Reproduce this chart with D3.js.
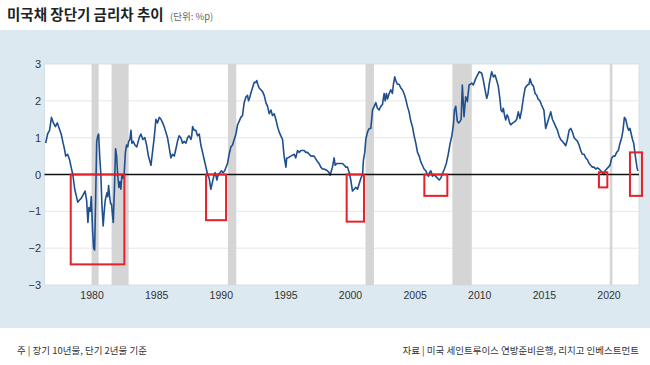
<!DOCTYPE html>
<html><head><meta charset="utf-8">
<script src="https://cdn.jsdelivr.net/npm/d3@7"></script>
<style>
html,body{margin:0;padding:0;background:#fff;}
svg{display:block;}
</style></head>
<body><svg id="c" width="650" height="365"></svg>
<script>
const title = "미국채 장단기 금리차 추이";
const unit = "(단위: %p)";
const noteLeft = "주 | 장기 10년물, 단기 2년물 기준";
const noteRight = "자료 | 미국 세인트루이스 연방준비은행, 리치고 인베스트먼트";
const xTicks = [1980,1985,1990,1995,2000,2005,2010,2015,2020];
const yTicks = [-3,-2,-1,0,1,2,3];
const recessionStart = [1980.0,1981.55,1990.55,2001.2,2007.92,2020.1];
const recessionEnd   = [1980.55,1982.87,1991.2,2001.85,2009.42,2020.3];
const boxStart = [1978.39,1988.86,1999.74,2005.75,2019.26,2021.66];
const boxEnd   = [1982.54,1990.41,2001.08,2007.53,2019.91,2022.59];
const boxHigh  = [0,0,0,0,0.06,0.6];
const boxLow   = [-2.44,-1.24,-1.28,-0.58,-0.35,-0.58];
const dates = [
1976.45,1976.6,1976.75,1976.9,1977.05,1977.2,1977.35,1977.5,1977.65,1977.8,1977.9,1978.0,1978.15,1978.3,1978.42,1978.55,1978.7,1978.8,1978.93,1979.05,
1979.2,1979.35,1979.5,1979.62,1979.72,1979.8,1979.9,1979.98,1980.08,1980.16,1980.24,1980.32,1980.4,1980.48,1980.55,1980.63,1980.72,1980.8,1980.9,1980.98,
1981.06,1981.19,1981.25,1981.32,1981.4,1981.48,1981.55,1981.62,1981.68,1981.77,1981.86,1981.94,1982.02,1982.12,1982.2,1982.27,1982.35,1982.43,1982.53,1982.62,
1982.71,1982.8,1982.87,1982.97,1983.05,1983.12,1983.22,1983.36,1983.5,1983.69,1983.82,1983.97,1984.12,1984.26,1984.4,1984.6,1984.68,1984.85,1984.98,1985.1,
1985.24,1985.37,1985.5,1985.62,1985.88,1986.14,1986.27,1986.4,1986.53,1986.65,1986.78,1986.91,1987.04,1987.17,1987.3,1987.43,1987.55,1987.69,1987.75,1987.82,
1987.95,1988.07,1988.2,1988.33,1988.46,1988.59,1988.72,1988.85,1988.98,1989.1,1989.23,1989.36,1989.49,1989.57,1989.7,1989.8,1989.95,1990.05,1990.18,1990.3,
1990.52,1990.65,1990.78,1990.91,1991.04,1991.17,1991.3,1991.43,1991.55,1991.68,1991.81,1991.94,1992.07,1992.15,1992.25,1992.32,1992.45,1992.58,1992.71,1992.78,
1992.86,1992.97,1993.1,1993.23,1993.36,1993.49,1993.62,1993.75,1993.88,1994.0,1994.13,1994.26,1994.39,1994.52,1994.65,1994.78,1994.9,1995.04,1995.1,1995.2,
1995.42,1995.68,1995.8,1995.94,1996.07,1996.2,1996.33,1996.45,1996.58,1996.71,1996.97,1997.22,1997.48,1997.6,1997.74,1997.87,1997.99,1998.25,1998.38,1998.46,
1998.56,1998.64,1998.77,1998.85,1998.97,1999.1,1999.29,1999.42,1999.55,1999.68,1999.81,1999.94,2000.06,2000.19,2000.32,2000.45,2000.58,2000.71,2000.84,2000.97,
2001.04,2001.14,2001.22,2001.35,2001.48,2001.61,2001.74,2001.87,2002.0,2002.12,2002.25,2002.38,2002.51,2002.64,2002.72,2002.82,2002.9,2003.03,2003.15,2003.28,
2003.36,2003.46,2003.54,2003.67,2003.8,2003.93,2004.05,2004.18,2004.31,2004.44,2004.57,2004.7,2004.83,2004.96,2005.09,2005.22,2005.35,2005.47,2005.6,2005.73,
2005.86,2005.99,2006.07,2006.15,2006.25,2006.38,2006.5,2006.63,2006.77,2006.9,2007.02,2007.15,2007.3,2007.45,2007.6,2007.75,2007.88,2008.0,2008.08,2008.18,
2008.3,2008.4,2008.51,2008.6,2008.69,2008.82,2008.95,2009.08,2009.21,2009.32,2009.42,2009.54,2009.73,2009.86,2010.0,2010.19,2010.31,2010.45,2010.58,2010.68,
2010.78,2010.96,2011.1,2011.22,2011.35,2011.47,2011.6,2011.68,2011.78,2011.86,2011.96,2012.05,2012.15,2012.25,2012.35,2012.43,2012.6,2012.77,2012.9,2013.02,
2013.15,2013.28,2013.41,2013.55,2013.72,2013.85,2013.93,2014.06,2014.19,2014.32,2014.45,2014.55,2014.7,2014.8,2014.93,2015.0,2015.14,2015.27,2015.4,2015.53,
2015.66,2015.79,2015.92,2016.05,2016.17,2016.3,2016.43,2016.56,2016.69,2016.82,2016.95,2017.08,2017.21,2017.34,2017.47,2017.6,2017.72,2017.85,2017.98,2018.11,
2018.24,2018.37,2018.5,2018.62,2018.75,2018.88,2019.01,2019.14,2019.27,2019.4,2019.53,2019.66,2019.73,2019.86,2019.99,2020.12,2020.25,2020.38,2020.5,2020.63,
2020.76,2020.89,2021.02,2021.12,2021.23,2021.33,2021.46,2021.56,2021.66,2021.76,2021.86,2021.95,2022.04,2022.12,2022.2,2022.27
];
const spread = [
0.85,1.1,1.2,1.55,1.4,1.3,1.4,1.25,1.1,0.85,0.7,0.5,0.55,0.4,0.2,0.0,-0.4,-0.55,-0.75,-0.7,
-0.65,-0.55,-0.45,-0.7,-1.3,-0.9,-1.0,-0.6,-1.5,-2.0,-2.05,-0.6,0.9,1.05,1.1,0.5,0.0,-0.8,-1.4,-1.0,
-0.7,-0.5,-0.6,-0.3,-0.6,-0.8,-0.8,-1.1,-1.3,-0.4,0.7,0.5,0.0,-0.35,-0.2,-0.4,0.0,-0.1,0.05,0.6,
0.8,0.75,0.9,0.95,1.2,0.85,0.9,0.8,0.75,1.0,1.1,0.95,1.0,0.8,0.5,0.25,0.5,1.0,1.5,1.4,
1.55,1.5,1.4,1.3,1.0,0.45,0.55,0.5,0.7,0.9,1.05,1.0,0.85,0.9,0.85,1.0,1.05,0.95,1.05,1.3,
1.2,1.2,1.05,1.1,0.8,0.6,0.4,0.2,0.0,-0.1,-0.4,-0.2,0.0,0.05,-0.15,0.0,0.05,0.1,0.05,0.1,
0.3,0.55,0.75,0.8,0.95,1.1,1.35,1.45,1.55,1.6,1.95,2.1,2.15,2.0,2.1,2.2,2.35,2.5,2.5,2.55,
2.45,2.35,2.3,2.25,2.15,1.95,1.85,1.65,1.75,1.6,1.65,1.5,1.3,1.15,1.05,0.95,0.5,0.2,0.45,0.45,
0.5,0.55,0.45,0.65,0.6,0.65,0.65,0.65,0.6,0.6,0.5,0.5,0.35,0.3,0.2,0.15,0.15,0.1,0.05,-0.02,
0.1,0.2,0.45,0.25,0.3,0.3,0.3,0.3,0.25,0.2,0.2,0.05,-0.15,-0.45,-0.4,-0.35,-0.4,-0.25,-0.1,0.0,
0.4,0.6,0.95,1.15,1.25,1.25,1.75,1.85,1.95,1.8,1.75,1.85,1.9,2.2,2.0,2.2,2.05,2.2,2.3,2.2,
2.45,2.65,2.55,2.45,2.45,2.35,2.3,2.2,2.05,1.85,1.7,1.45,1.3,1.05,0.85,0.6,0.5,0.35,0.25,0.15,
0.1,0.0,-0.05,0.05,0.1,-0.05,0.0,-0.05,-0.1,-0.15,-0.1,0.02,0.15,0.3,0.55,0.85,1.05,1.35,1.75,1.85,
1.45,1.4,1.44,1.5,2.43,1.57,2.11,1.98,2.43,2.45,2.48,2.43,2.61,2.7,2.79,2.75,2.57,2.3,2.07,2.2,
2.48,2.79,2.65,2.7,2.55,2.4,2.05,1.75,1.7,1.8,1.6,1.48,1.62,1.55,1.4,1.35,1.4,1.44,1.5,1.7,
1.52,1.75,2.07,2.35,2.43,2.45,2.6,2.45,2.4,2.2,2.15,2.05,2.0,1.9,1.8,1.75,1.25,1.4,1.55,1.7,
1.5,1.4,1.3,1.2,1.05,0.95,0.9,0.85,0.78,0.95,1.2,1.25,1.15,1.0,0.95,0.9,0.8,0.65,0.55,0.55,
0.45,0.4,0.3,0.25,0.2,0.2,0.15,0.18,0.15,0.1,0.05,0.0,0.1,0.15,0.2,0.25,0.45,0.5,0.5,0.6,
0.65,0.85,1.0,1.2,1.55,1.5,1.3,1.2,1.25,1.1,0.95,0.85,0.6,0.4,0.2,0.1
];

const svg = d3.select("#c");
const W = 650, H = 365;
const plot = {left:44.5, right:639, top:64, bottom:285};
const FONT = "'Noto Sans CJK KR','Noto Sans',sans-serif";
const NUMFONT = "'Liberation Sans',Arial,sans-serif";

// background panel
svg.append("rect").attr("x",0).attr("y",30).attr("width",W).attr("height",298).attr("fill","#dde9f1");

const x = d3.scaleLinear().domain([1976.36,2022.36]).range([plot.left,plot.right]);
const y = d3.scaleLinear().domain([-3,3]).range([plot.bottom,plot.top]);

svg.append("rect").attr("x",plot.left).attr("y",plot.top)
  .attr("width",plot.right-plot.left).attr("height",plot.bottom-plot.top)
  .attr("fill","#fff").attr("stroke","#d2dae0").attr("stroke-width",0.8);

// grid
svg.append("g").selectAll("line").data(yTicks.filter(v=>v!==3&&v!==-3&&v!==0)).join("line")
  .attr("x1",plot.left).attr("x2",plot.right)
  .attr("y1",d=>y(d)).attr("y2",d=>y(d))
  .attr("stroke","#e6e6e6").attr("stroke-width",1);

// recessions
svg.append("g").selectAll("rect").data(recessionStart).join("rect")
  .attr("x",(d)=>x(d)).attr("y",plot.top)
  .attr("width",(d,i)=>x(recessionEnd[i])-x(d)).attr("height",plot.bottom-plot.top)
  .attr("fill","#d5d5d5");

// line
const pts = dates.map((d,i)=>[d,spread[i]]);
svg.append("path").datum(pts)
  .attr("d",d3.line().x(d=>x(d[0])).y(d=>y(d[1])))
  .attr("fill","none").attr("stroke","#1f4f8e").attr("stroke-width",1.6)
  .attr("stroke-linejoin","round");

// zero line
svg.append("line").attr("x1",plot.left).attr("x2",plot.right)
  .attr("y1",y(0)).attr("y2",y(0)).attr("stroke","#111").attr("stroke-width",1.5);

// red boxes
svg.append("g").selectAll("rect").data(boxStart).join("rect")
  .attr("x",d=>x(d)).attr("y",(d,i)=>y(boxHigh[i]))
  .attr("width",(d,i)=>x(boxEnd[i])-x(d))
  .attr("height",(d,i)=>y(boxLow[i])-y(boxHigh[i]))
  .attr("fill","none").attr("stroke","#e4222b").attr("stroke-width",2);

// axes
const yAxis = d3.axisLeft(y).tickValues(yTicks).tickSize(0).tickPadding(0)
  .tickFormat(d=>d<0?"\u2212"+Math.abs(d):d);
const gy = svg.append("g").attr("transform",`translate(41,0)`).call(yAxis);
gy.select(".domain").remove();
gy.selectAll("text").attr("font-family",NUMFONT).attr("font-size",11).attr("fill","#333");

const xAxis = d3.axisBottom(x).tickValues(xTicks).tickSize(0).tickPadding(0).tickFormat(d3.format("d"));
const gx = svg.append("g").attr("transform",`translate(0,292)`).call(xAxis);
gx.select(".domain").remove();
gx.selectAll("text").attr("font-family",NUMFONT).attr("font-size",10.5).attr("fill","#333");

// title
svg.append("text").attr("x",7).attr("y",20).text(title)
  .attr("font-family",FONT).attr("font-weight",700).attr("font-size",14.5).attr("fill","#222");
svg.append("text").attr("x",170).attr("y",20).text(unit)
  .attr("font-family",FONT).attr("font-size",9.5).attr("fill","#666");

// notes
svg.append("text").attr("x",17).attr("y",354).text(noteLeft)
  .attr("font-family",FONT).attr("font-size",9.5).attr("fill","#333");
svg.append("text").attr("x",639).attr("y",354).attr("text-anchor","end").text(noteRight)
  .attr("font-family",FONT).attr("font-size",9.5).attr("fill","#333");
</script></body></html>
